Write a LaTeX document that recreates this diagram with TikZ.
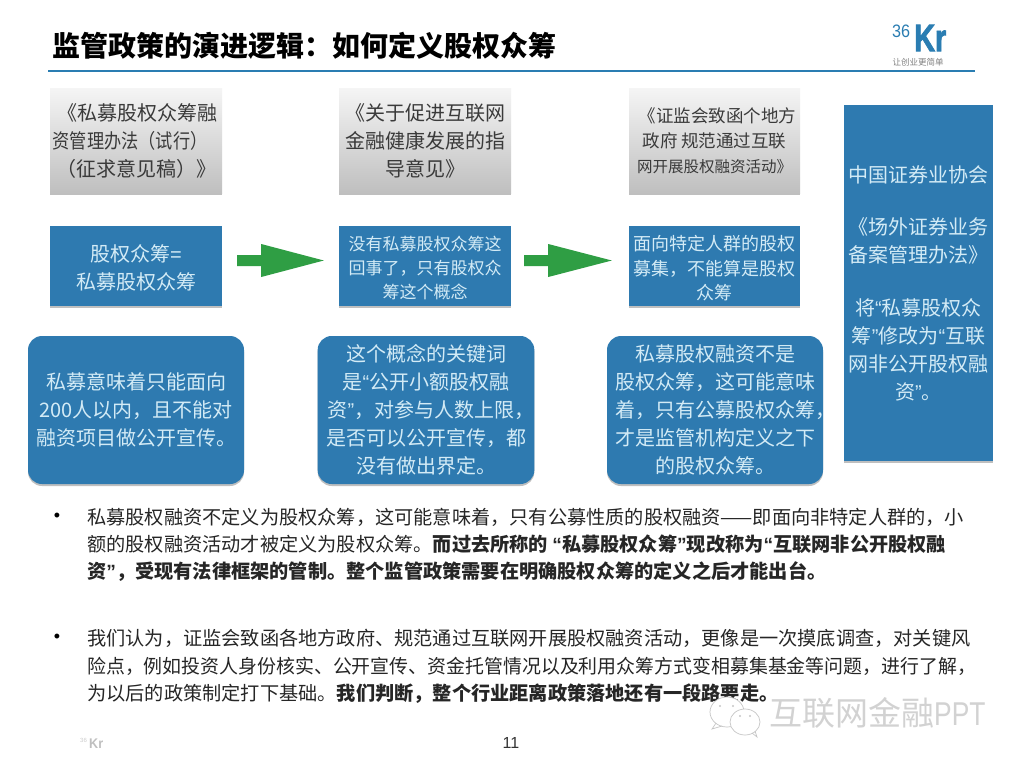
\documentclass[tikz,border=0pt]{standalone}
\usepackage{fontspec}
\usepackage{graphicx}
\setmainfont{Noto Sans CJK SC}
\newfontfamily\latf{Liberation Sans}
\newfontfamily\logof[BoldFeatures={FakeBold=2.5}]{Liberation Sans}
\usetikzlibrary{shadows,calc}
\definecolor{boxblue}{HTML}{2E7AB0}
\definecolor{paleblue}{HTML}{D3EBF6}
\definecolor{arrowgreen}{HTML}{2F9E44}
\definecolor{rulecolor}{HTML}{2A7DB2}
\definecolor{graytxt}{HTML}{3A3A3A}
\newcommand{\fs}[2]{\fontsize{#1}{#2}\selectfont}
\newcommand{\lqq}{{\latf “}}
\newcommand{\rqq}{{\latf ”}}
\tikzset{
  x=1pt,y=-1pt,
  softshadow/.style={drop shadow={shadow xshift=0pt,shadow yshift=-2pt,opacity=.25,fill=black}},
  graybox/.style={rectangle,inner sep=0pt,minimum width=172,minimum height=105,top color=gray!8,bottom color=gray!50,softshadow,align=center,text=graytxt},
  bluebase/.style={rectangle,inner sep=0pt,fill=boxblue,softshadow,align=center,text=paleblue},
  bluebox/.style={bluebase,minimum width=172,minimum height=80},
  sidebox/.style={bluebase,minimum width=149,minimum height=356},
  tipbox/.style={rectangle,rounded corners=14,inner sep=0pt,fill=boxblue,softshadow,align=center,text=paleblue,minimum width=216,minimum height=148},
  bodytext/.style={inner sep=0pt,anchor=west,align=left,text=black!85,font=\fs{19.2}{27.2}},
  bulletdot/.style={inner sep=0pt,text=black,font=\latf\fs{18}{20}},
  greenarrow/.style={fill=arrowgreen},
  plainlabel/.style={inner sep=0pt}
}
\begin{document}
\begin{tikzpicture}
\useasboundingbox (0,0) rectangle (1024,768);
\fill[white] (0,0) rectangle (1024,768);
% title
\node[plainlabel,anchor=west,font=\fs{28}{32}\bfseries,text=black] (title) at (52,46) {监管政策的演进逻辑：如何定义股权众筹};
\coordinate (ruleL) at (48,71);
\coordinate (ruleR) at (975,71);
\draw[rulecolor,line width=2] (ruleL) -- (ruleR);
% logo
\node[plainlabel,anchor=west,font=\latf\fs{18}{18},text=rulecolor] (l36) at (892,31) {\scalebox{.9}[1]{36}};
\node[plainlabel,anchor=west,font=\logof\bfseries\fs{38}{38},text=rulecolor] (lkr) at (914,38) {\scalebox{.76}[1]{Kr}};
\node[plainlabel,font=\fs{8.5}{10},text=gray] (ltag) at (918,62.5) {让创业更简单};
% gray boxes
\node[graybox,font=\fs{20}{28}] (g1) at (136,140.5) {\hspace*{3pt}《私募股权众筹融\\\hspace*{-12pt}\scalebox{.86}[1]{资管理办法（试行）}\\（征求意见稿）》};
\node[graybox,font=\fs{20}{28}] (g2) at (425,140.5) {《关于促进互联网\\金融健康发展的指\\导意见》};
\node[graybox,font=\fs{17.5}{25},minimum width=171] (g3) at (714.5,140.5) {\hspace*{6pt}《证监会致函个地方\\政府 规范通过互联\\{\fs{15.5}{25}网开展股权融资活动》}};
% blue boxes
\node[bluebox,font=\fs{20}{28}] (b1) at (136,266) {\rule{0pt}{20pt}股权众筹{\latf =}\\私募股权众筹};
\node[bluebox,font=\fs{17}{24}] (b2) at (425,266) {\rule{0pt}{19pt}没有私募股权众筹这\\回事了，只有股权众\\筹这个概念};
\node[bluebox,font=\fs{18}{24.5},minimum width=171] (b3) at (714.5,266) {\rule{0pt}{20pt}面向特定人群的股权\\募集，不能算是股权\\众筹};
% side box
\node[sidebox,font=\fs{20}{28}] (side) at (918.5,283) {中国证券业协会\\[24pt]《场外证券业务\\备案管理办法》\\[25pt]将{\lqq}私募股权众\\筹{\rqq}修改为{\lqq}互联\\网非公开股权融\\资{\rqq}。};
% arrows
\fill[greenarrow] ($(b1.east)+(15,-11)$) -- ($(b1.east)+(39,-11)$) -- ($(b1.east)+(39,-22)$) -- ($(b2.west)+(-15,-5.5)$) -- ($(b1.east)+(39,11)$) -- ($(b1.east)+(39,0)$) -- ($(b1.east)+(15,0)$) -- cycle;
\fill[greenarrow] ($(b2.east)+(13,-11)$) -- ($(b2.east)+(37,-11)$) -- ($(b2.east)+(37,-22)$) -- ($(b3.west)+(-17,-5.5)$) -- ($(b2.east)+(37,11)$) -- ($(b2.east)+(37,0)$) -- ($(b2.east)+(13,0)$) -- cycle;
% rounded boxes
\node[tipbox,font=\fs{20}{28}] (t1) at (136,410) {私募意味着只能面向\\200人以内，且不能对\\融资项目做公开宣传。};
\node[tipbox,font=\fs{20}{28}] (t2) at (426,410) {这个概念的关键词\\是{\lqq}公开小额股权融\\\hspace*{10pt}资{\rqq}，对参与人数上限，\\是否可以公开宣传，都\\没有做出界定。};
\node[tipbox,font=\fs{20}{28}] (t3) at (715,410) {私募股权融资不是\\股权众筹，这可能意味\\着，只有公募股权众筹\rlap{，}\\才是监管机构定义之下\\的股权众筹。};
% body
\node[bulletdot] (bu1) at (57,517) {•};
\node[bodytext] (p1) at (87,545) {私募股权融资不定义为股权众筹，这可能意味着，只有公募性质的股权融资——即面向非特定人群的，小\\额的股权融资活动才被定义为股权众筹。{\bfseries 而过去所称的 {\lqq}私募股权众筹{\rqq}现改称为{\lqq}互联网非公开股权融}\\{\bfseries 资{\rqq}，受现有法律框架的管制。整个监管政策需要在明确股权众筹的定义之后才能出台。}};
\node[bulletdot] (bu2) at (57,638) {•};
\node[bodytext] (p2) at (87,666.5) {我们认为，证监会致函各地方政府、规范通过互联网开展股权融资活动，更像是一次摸底调查，对关键风\\\scalebox{.985}[1]{险点，例如投资人身份核实、公开宣传、资金托管情况以及利用众筹方式变相募集基金等问题，进行了解，}\\为以后的政策制定打下基础。{\bfseries 我们判断，整个行业距离政策落地还有一段路要走。}};
% watermark
\draw[gray!45,line width=.7,fill=white] (727,712) ellipse (17 and 15);
\draw[gray!45,line width=.7] (716,723) -- (712,729) -- (722,726);
\draw[gray!45,line width=.7,fill=white] (745,722) ellipse (15 and 13);
\draw[gray!45,line width=.7] (752,733) -- (757,737) -- (755,731);
\fill[gray!45] (720,706) circle (1.2) (733,706) circle (1.2) (740,716) circle (1.2) (750,716) circle (1.2);
\node[plainlabel,anchor=west,font=\fs{33}{36},text=gray!35] (wm) at (769,713) {互联网金融{\latf\scalebox{.8}[1]{PPT}}};
% footer
\node[plainlabel,anchor=west,font=\latf\fs{6}{6},text=gray!40] (f36) at (80,740) {36};
\node[plainlabel,anchor=west,font=\latf\bfseries\fs{14}{14},text=gray!50] (fkr) at (89,744) {\scalebox{.9}[1]{Kr}};
\node[plainlabel,font=\latf\fs{16}{18},text=black!80] (page) at (511,743) {11};
\end{tikzpicture}
\end{document}
